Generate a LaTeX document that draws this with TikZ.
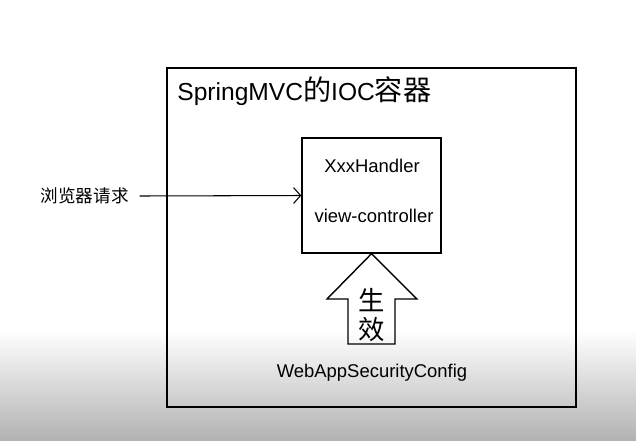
\documentclass[tikz,border=0pt]{standalone}
\usepackage{fontspec}
\setmainfont{Liberation Sans}
\newfontfamily\cjk{Noto Sans CJK SC}
\usetikzlibrary{positioning,arrows.meta}
\tikzset{
  frame/.style={draw, rectangle, line width=0.8pt},
  txt/.style={font=\fontsize{10.5}{12}\selectfont, inner sep=1pt}
}
\begin{document}
\begin{tikzpicture}[x=0.02cm,y=-0.02cm]
        \useasboundingbox (0,0) rectangle (636,440);
        \shade[top color=white, bottom color=black!30] (0,330) rectangle (636,440);

        \node (ioc) [frame, minimum width=8.18cm, minimum height=6.78cm] at (371.5,237.5) {};
        \node (title) [anchor=base west, inner sep=0pt, font=\fontsize{14}{16}\selectfont] at (177,100) {SpringMVC{\cjk\fontsize{16}{18}\selectfont 的}IOC{\cjk\fontsize{16}{18}\selectfont 容器}};
        \node (handler) [frame, minimum width=2.78cm, minimum height=2.3cm] at (371.5,195.5) {};
        \node (xxx) [txt] at (372,166) {XxxHandler};
        \node (view) [txt] at (374,216) {view-controller};
        \node (browser) [anchor=east, inner sep=0pt, font=\cjk\fontsize{10}{12}\selectfont] at (129,196) {浏览器请求};

        \draw[-{Straight Barb[length=4pt,width=9pt]}, line width=0.6pt] ([xshift=6pt]browser.east) -- (handler.west);

        \draw[line width=0.8pt] (handler.south) -- (417,299) -- (395,299) -- (395,344) -- (348,344) -- (348,299) -- (327,299) -- cycle;
        \node (sheng) [font=\cjk\fontsize{15}{16}\selectfont, inner sep=0pt] at (372,300) {生};
        \node (xiao) [font=\cjk\fontsize{15}{16}\selectfont, inner sep=0pt] at (372,330) {效};

        \node (config) [txt] at (372,373) {WebAppSecurityConfig};
    \end{tikzpicture}
\end{document}
